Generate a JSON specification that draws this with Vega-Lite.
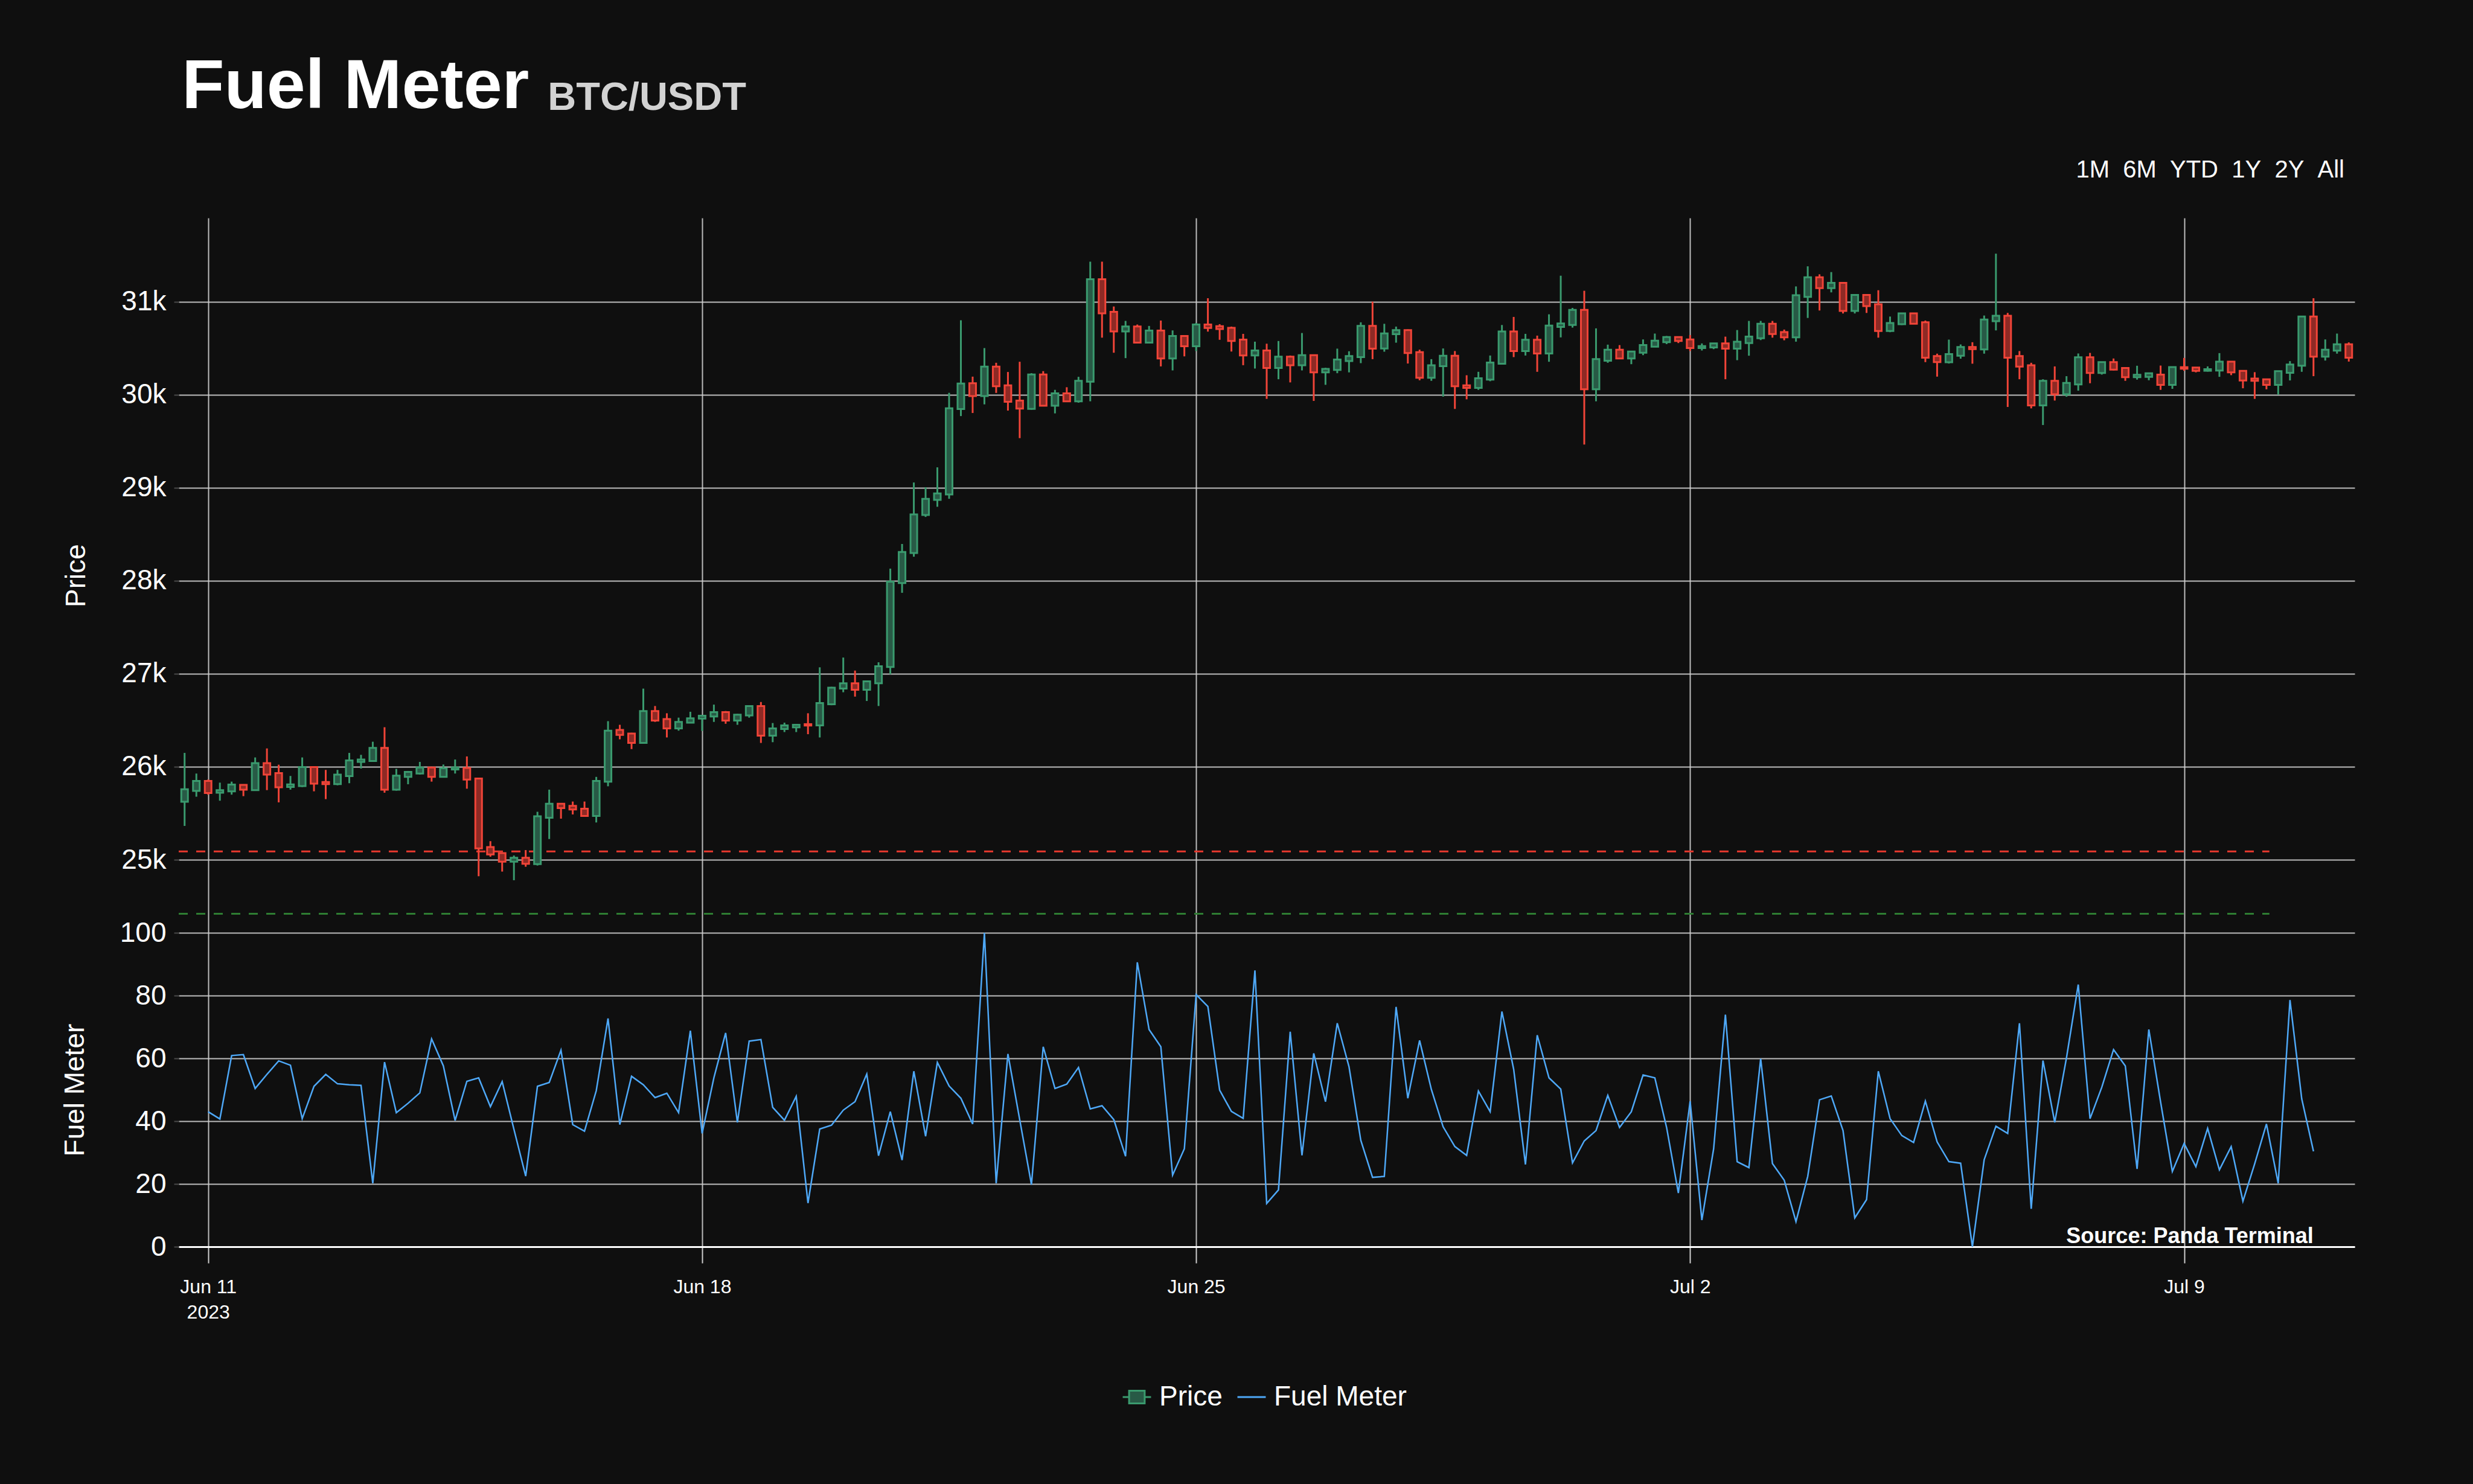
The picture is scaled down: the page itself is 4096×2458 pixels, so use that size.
{
  "$schema": "https://vega.github.io/schema/vega-lite/v6.json",
  "background": "#0f0f0f",
  "padding": {"left": 101, "top": 87, "right": 197, "bottom": 130},
  "config": {
    "font": "Liberation Sans",
    "view": {"stroke": null},
    "concat": {"spacing": 0},
    "axis": {
      "labelFont": "Liberation Sans",
      "titleFont": "Liberation Sans",
      "labelColor": "#ffffff",
      "titleColor": "#ffffff",
      "titleFontWeight": "normal",
      "gridColor": "#cfcfcf",
      "gridWidth": 2,
      "gridOpacity": 0.9,
      "tickColor": "#4a4a4a",
      "domain": false
    }
  },
  "title": {
    "text": "Fuel Meter",
    "anchor": "start",
    "fontSize": 115,
    "fontWeight": "bold",
    "color": "#ffffff",
    "font": "Liberation Sans",
    "offset": 0,
    "dx": 200,
    "dy": 73
  },
  "data": {
    "values": [
      {"t":"2023-06-10T16:00","o":25623,"h":26149,"l":25364,"c":25758},
      {"t":"2023-06-10T20:00","o":25741,"h":25927,"l":25678,"c":25847},
      {"t":"2023-06-11T00:00","o":25847,"h":25862,"l":25700,"c":25717,"f":43},
      {"t":"2023-06-11T04:00","o":25721,"h":25829,"l":25635,"c":25749,"f":40.7},
      {"t":"2023-06-11T08:00","o":25736,"h":25840,"l":25700,"c":25808,"f":60.9},
      {"t":"2023-06-11T12:00","o":25806,"h":25806,"l":25684,"c":25754,"f":61.2},
      {"t":"2023-06-11T16:00","o":25749,"h":26100,"l":25749,"c":26039,"f":50.4},
      {"t":"2023-06-11T20:00","o":26039,"h":26197,"l":25749,"c":25916,"f":54.9},
      {"t":"2023-06-12T00:00","o":25931,"h":26022,"l":25617,"c":25780,"f":59.2},
      {"t":"2023-06-12T04:00","o":25782,"h":25901,"l":25754,"c":25810,"f":57.8},
      {"t":"2023-06-12T08:00","o":25793,"h":26100,"l":25782,"c":25996,"f":40.8},
      {"t":"2023-06-12T12:00","o":25996,"h":25996,"l":25736,"c":25819,"f":51.1},
      {"t":"2023-06-12T16:00","o":25836,"h":25966,"l":25652,"c":25814,"f":54.9},
      {"t":"2023-06-12T20:00","o":25814,"h":25966,"l":25801,"c":25916,"f":51.9},
      {"t":"2023-06-13T00:00","o":25899,"h":26149,"l":25823,"c":26068,"f":51.6},
      {"t":"2023-06-13T04:00","o":26052,"h":26128,"l":25981,"c":26078,"f":51.4},
      {"t":"2023-06-13T08:00","o":26061,"h":26269,"l":26061,"c":26202,"f":20.2},
      {"t":"2023-06-13T12:00","o":26202,"h":26425,"l":25721,"c":25754,"f":58.8},
      {"t":"2023-06-13T16:00","o":25754,"h":25977,"l":25743,"c":25905,"f":42.7},
      {"t":"2023-06-13T20:00","o":25892,"h":25955,"l":25812,"c":25944,"f":45.7},
      {"t":"2023-06-14T00:00","o":25927,"h":26052,"l":25916,"c":25992,"f":49},
      {"t":"2023-06-14T04:00","o":25992,"h":26002,"l":25840,"c":25892,"f":66.2},
      {"t":"2023-06-14T08:00","o":25892,"h":26024,"l":25883,"c":25983,"f":57.6},
      {"t":"2023-06-14T12:00","o":25970,"h":26078,"l":25927,"c":25992,"f":40.2},
      {"t":"2023-06-14T16:00","o":25987,"h":26111,"l":25764,"c":25862,"f":52.7},
      {"t":"2023-06-14T20:00","o":25873,"h":25879,"l":24823,"c":25122,"f":53.8},
      {"t":"2023-06-15T00:00","o":25137,"h":25200,"l":25033,"c":25057,"f":44.6},
      {"t":"2023-06-15T04:00","o":25072,"h":25072,"l":24873,"c":24979,"f":52.6},
      {"t":"2023-06-15T08:00","o":24979,"h":25046,"l":24780,"c":25022,"f":37.4},
      {"t":"2023-06-15T12:00","o":25022,"h":25104,"l":24925,"c":24957,"f":22.5},
      {"t":"2023-06-15T16:00","o":24953,"h":25516,"l":24938,"c":25468,"f":51.1},
      {"t":"2023-06-15T20:00","o":25451,"h":25754,"l":25223,"c":25602,"f":52.3},
      {"t":"2023-06-16T00:00","o":25602,"h":25602,"l":25442,"c":25555,"f":62.6},
      {"t":"2023-06-16T04:00","o":25580,"h":25626,"l":25487,"c":25541,"f":38.9},
      {"t":"2023-06-16T08:00","o":25549,"h":25626,"l":25462,"c":25471,"f":36.8},
      {"t":"2023-06-16T12:00","o":25471,"h":25891,"l":25401,"c":25848,"f":49.7},
      {"t":"2023-06-16T16:00","o":25840,"h":26490,"l":25790,"c":26388,"f":72.7},
      {"t":"2023-06-16T20:00","o":26396,"h":26451,"l":26295,"c":26342,"f":38.9},
      {"t":"2023-06-17T00:00","o":26357,"h":26365,"l":26190,"c":26256,"f":54.3},
      {"t":"2023-06-17T04:00","o":26256,"h":26840,"l":26256,"c":26599,"f":51.6},
      {"t":"2023-06-17T08:00","o":26599,"h":26653,"l":26482,"c":26497,"f":47.5},
      {"t":"2023-06-17T12:00","o":26513,"h":26575,"l":26315,"c":26412,"f":48.9},
      {"t":"2023-06-17T16:00","o":26412,"h":26528,"l":26388,"c":26482,"f":42.7},
      {"t":"2023-06-17T20:00","o":26474,"h":26591,"l":26474,"c":26521,"f":68.8},
      {"t":"2023-06-18T00:00","o":26517,"h":26548,"l":26385,"c":26548,"f":36.1},
      {"t":"2023-06-18T04:00","o":26540,"h":26668,"l":26482,"c":26587,"f":53.8},
      {"t":"2023-06-18T08:00","o":26587,"h":26599,"l":26462,"c":26497,"f":68.1},
      {"t":"2023-06-18T12:00","o":26497,"h":26568,"l":26451,"c":26560,"f":39.6},
      {"t":"2023-06-18T16:00","o":26552,"h":26657,"l":26528,"c":26653,"f":65.5},
      {"t":"2023-06-18T20:00","o":26653,"h":26696,"l":26256,"c":26334,"f":66},
      {"t":"2023-06-19T00:00","o":26334,"h":26470,"l":26264,"c":26412,"f":44.4},
      {"t":"2023-06-19T04:00","o":26405,"h":26474,"l":26373,"c":26444,"f":40.3},
      {"t":"2023-06-19T08:00","o":26423,"h":26451,"l":26373,"c":26451,"f":47.9},
      {"t":"2023-06-19T12:00","o":26458,"h":26575,"l":26350,"c":26443,"f":13.9},
      {"t":"2023-06-19T16:00","o":26444,"h":27069,"l":26315,"c":26684,"f":37.5},
      {"t":"2023-06-19T20:00","o":26672,"h":26859,"l":26661,"c":26851,"f":38.7},
      {"t":"2023-06-20T00:00","o":26840,"h":27174,"l":26801,"c":26898,"f":43.5},
      {"t":"2023-06-20T04:00","o":26898,"h":27034,"l":26754,"c":26828,"f":46.2},
      {"t":"2023-06-20T08:00","o":26828,"h":26918,"l":26707,"c":26918,"f":55},
      {"t":"2023-06-20T12:00","o":26898,"h":27123,"l":26653,"c":27080,"f":29},
      {"t":"2023-06-20T16:00","o":27073,"h":28130,"l":26995,"c":27990,"f":43},
      {"t":"2023-06-20T20:00","o":27975,"h":28395,"l":27870,"c":28309,"f":27.6},
      {"t":"2023-06-21T00:00","o":28297,"h":29056,"l":28258,"c":28713,"f":55.9},
      {"t":"2023-06-21T04:00","o":28706,"h":29005,"l":28686,"c":28881,"f":35.2},
      {"t":"2023-06-21T08:00","o":28869,"h":29219,"l":28795,"c":28939,"f":58.7},
      {"t":"2023-06-21T12:00","o":28927,"h":30020,"l":28881,"c":29853,"f":51.2},
      {"t":"2023-06-21T16:00","o":29845,"h":30800,"l":29770,"c":30120,"f":47.3},
      {"t":"2023-06-21T20:00","o":30123,"h":30194,"l":29803,"c":29985,"f":39.1},
      {"t":"2023-06-22T00:00","o":29985,"h":30501,"l":29896,"c":30302,"f":100},
      {"t":"2023-06-22T04:00","o":30302,"h":30343,"l":30019,"c":30091,"f":20.2},
      {"t":"2023-06-22T08:00","o":30101,"h":30244,"l":29829,"c":29924,"f":61.4},
      {"t":"2023-06-22T12:00","o":29937,"h":30354,"l":29533,"c":29851,"f":40.5},
      {"t":"2023-06-22T16:00","o":29847,"h":30231,"l":29838,"c":30218,"f":19.8},
      {"t":"2023-06-22T20:00","o":30218,"h":30253,"l":29881,"c":29881,"f":63.7},
      {"t":"2023-06-23T00:00","o":29881,"h":30052,"l":29799,"c":30015,"f":50.4},
      {"t":"2023-06-23T04:00","o":30015,"h":30080,"l":29929,"c":29929,"f":51.8},
      {"t":"2023-06-23T08:00","o":29929,"h":30192,"l":29914,"c":30149,"f":57.1},
      {"t":"2023-06-23T12:00","o":30140,"h":31430,"l":29929,"c":31242,"f":43.9},
      {"t":"2023-06-23T16:00","o":31242,"h":31430,"l":30613,"c":30875,"f":44.9},
      {"t":"2023-06-23T20:00","o":30890,"h":30948,"l":30451,"c":30680,"f":40.5},
      {"t":"2023-06-24T00:00","o":30680,"h":30793,"l":30393,"c":30734,"f":28.8},
      {"t":"2023-06-24T04:00","o":30734,"h":30754,"l":30559,"c":30559,"f":90.6},
      {"t":"2023-06-24T08:00","o":30559,"h":30739,"l":30555,"c":30689,"f":69.2},
      {"t":"2023-06-24T12:00","o":30689,"h":30797,"l":30304,"c":30389,"f":63.7},
      {"t":"2023-06-24T16:00","o":30389,"h":30691,"l":30261,"c":30631,"f":22.8},
      {"t":"2023-06-24T20:00","o":30631,"h":30631,"l":30412,"c":30520,"f":31.2},
      {"t":"2023-06-25T00:00","o":30520,"h":30771,"l":30469,"c":30754,"f":80.3},
      {"t":"2023-06-25T04:00","o":30754,"h":31037,"l":30678,"c":30717,"f":76.5},
      {"t":"2023-06-25T08:00","o":30736,"h":30758,"l":30590,"c":30706,"f":49.9},
      {"t":"2023-06-25T12:00","o":30719,"h":30732,"l":30464,"c":30577,"f":43.1},
      {"t":"2023-06-25T16:00","o":30592,"h":30654,"l":30317,"c":30421,"f":40.9},
      {"t":"2023-06-25T20:00","o":30421,"h":30570,"l":30281,"c":30475,"f":88},
      {"t":"2023-06-26T00:00","o":30475,"h":30548,"l":29955,"c":30287,"f":13.8},
      {"t":"2023-06-26T04:00","o":30287,"h":30577,"l":30166,"c":30408,"f":18.1},
      {"t":"2023-06-26T08:00","o":30408,"h":30421,"l":30132,"c":30317,"f":68.5},
      {"t":"2023-06-26T12:00","o":30317,"h":30663,"l":30261,"c":30425,"f":29.1},
      {"t":"2023-06-26T16:00","o":30425,"h":30425,"l":29933,"c":30240,"f":61.6},
      {"t":"2023-06-26T20:00","o":30240,"h":30289,"l":30106,"c":30278,"f":46.2},
      {"t":"2023-06-27T00:00","o":30266,"h":30495,"l":30231,"c":30378,"f":71.2},
      {"t":"2023-06-27T04:00","o":30361,"h":30467,"l":30240,"c":30415,"f":57.3},
      {"t":"2023-06-27T08:00","o":30404,"h":30778,"l":30339,"c":30739,"f":33.9},
      {"t":"2023-06-27T12:00","o":30739,"h":31000,"l":30382,"c":30495,"f":22.1},
      {"t":"2023-06-27T16:00","o":30497,"h":30762,"l":30462,"c":30659,"f":22.4},
      {"t":"2023-06-27T20:00","o":30650,"h":30732,"l":30559,"c":30695,"f":76.4},
      {"t":"2023-06-28T00:00","o":30695,"h":30702,"l":30335,"c":30447,"f":47.3},
      {"t":"2023-06-28T04:00","o":30458,"h":30484,"l":30155,"c":30181,"f":65.7},
      {"t":"2023-06-28T08:00","o":30181,"h":30382,"l":30149,"c":30317,"f":50.1},
      {"t":"2023-06-28T12:00","o":30307,"h":30497,"l":29979,"c":30419,"f":38.2},
      {"t":"2023-06-28T16:00","o":30419,"h":30469,"l":29847,"c":30091,"f":31.9},
      {"t":"2023-06-28T20:00","o":30101,"h":30209,"l":29950,"c":30073,"f":29.1},
      {"t":"2023-06-29T00:00","o":30073,"h":30246,"l":30052,"c":30177,"f":49.6},
      {"t":"2023-06-29T04:00","o":30162,"h":30421,"l":30145,"c":30345,"f":43},
      {"t":"2023-06-29T08:00","o":30333,"h":30749,"l":30333,"c":30680,"f":74.9},
      {"t":"2023-06-29T12:00","o":30680,"h":30836,"l":30404,"c":30469,"f":56.5},
      {"t":"2023-06-29T16:00","o":30469,"h":30654,"l":30421,"c":30590,"f":26.2},
      {"t":"2023-06-29T20:00","o":30590,"h":30635,"l":30246,"c":30443,"f":67.4},
      {"t":"2023-06-30T00:00","o":30443,"h":30864,"l":30354,"c":30743,"f":53.8},
      {"t":"2023-06-30T04:00","o":30728,"h":31279,"l":30616,"c":30765,"f":50.2},
      {"t":"2023-06-30T08:00","o":30749,"h":30933,"l":30721,"c":30911,"f":26.7},
      {"t":"2023-06-30T12:00","o":30911,"h":31117,"l":29464,"c":30058,"f":33.7},
      {"t":"2023-06-30T16:00","o":30058,"h":30713,"l":29929,"c":30382,"f":37},
      {"t":"2023-06-30T20:00","o":30365,"h":30538,"l":30343,"c":30484,"f":48.2},
      {"t":"2023-07-01T00:00","o":30484,"h":30533,"l":30382,"c":30389,"f":38},
      {"t":"2023-07-01T04:00","o":30389,"h":30464,"l":30328,"c":30464,"f":43},
      {"t":"2023-07-01T08:00","o":30451,"h":30594,"l":30425,"c":30533,"f":54.7},
      {"t":"2023-07-01T12:00","o":30516,"h":30657,"l":30512,"c":30581,"f":53.8},
      {"t":"2023-07-01T16:00","o":30564,"h":30631,"l":30544,"c":30620,"f":38},
      {"t":"2023-07-01T20:00","o":30620,"h":30620,"l":30555,"c":30577,"f":17.1},
      {"t":"2023-07-02T00:00","o":30594,"h":30641,"l":30469,"c":30501,"f":46.3},
      {"t":"2023-07-02T04:00","o":30501,"h":30551,"l":30475,"c":30523,"f":8.5},
      {"t":"2023-07-02T08:00","o":30508,"h":30551,"l":30490,"c":30551,"f":31.2},
      {"t":"2023-07-02T12:00","o":30551,"h":30624,"l":30166,"c":30495,"f":73.9},
      {"t":"2023-07-02T16:00","o":30495,"h":30695,"l":30371,"c":30570,"f":27.1},
      {"t":"2023-07-02T20:00","o":30555,"h":30793,"l":30419,"c":30624,"f":25.2},
      {"t":"2023-07-03T00:00","o":30607,"h":30793,"l":30587,"c":30762,"f":59.9},
      {"t":"2023-07-03T04:00","o":30762,"h":30793,"l":30613,"c":30652,"f":26.5},
      {"t":"2023-07-03T08:00","o":30674,"h":30700,"l":30585,"c":30616,"f":21.2},
      {"t":"2023-07-03T12:00","o":30616,"h":31164,"l":30570,"c":31069,"f":8},
      {"t":"2023-07-03T16:00","o":31052,"h":31380,"l":30825,"c":31263,"f":22.4},
      {"t":"2023-07-03T20:00","o":31263,"h":31294,"l":30905,"c":31145,"f":46.8},
      {"t":"2023-07-04T00:00","o":31145,"h":31318,"l":31100,"c":31203,"f":48},
      {"t":"2023-07-04T04:00","o":31203,"h":31210,"l":30873,"c":30901,"f":37},
      {"t":"2023-07-04T08:00","o":30901,"h":31078,"l":30873,"c":31073,"f":9.2},
      {"t":"2023-07-04T12:00","o":31073,"h":31078,"l":30879,"c":30952,"f":15},
      {"t":"2023-07-04T16:00","o":30972,"h":31123,"l":30613,"c":30685,"f":55.9},
      {"t":"2023-07-04T20:00","o":30685,"h":30840,"l":30672,"c":30771,"f":40.8},
      {"t":"2023-07-05T00:00","o":30758,"h":30879,"l":30749,"c":30875,"f":35.4},
      {"t":"2023-07-05T04:00","o":30875,"h":30879,"l":30760,"c":30762,"f":33.2},
      {"t":"2023-07-05T08:00","o":30778,"h":30797,"l":30350,"c":30397,"f":46.4},
      {"t":"2023-07-05T12:00","o":30415,"h":30441,"l":30194,"c":30350,"f":33.4},
      {"t":"2023-07-05T16:00","o":30348,"h":30592,"l":30335,"c":30436,"f":27.1},
      {"t":"2023-07-05T20:00","o":30419,"h":30540,"l":30387,"c":30512,"f":26.6},
      {"t":"2023-07-06T00:00","o":30512,"h":30564,"l":30333,"c":30490,"f":0},
      {"t":"2023-07-06T04:00","o":30486,"h":30851,"l":30441,"c":30808,"f":27.7},
      {"t":"2023-07-06T08:00","o":30790,"h":31516,"l":30691,"c":30849,"f":38.4},
      {"t":"2023-07-06T12:00","o":30849,"h":30879,"l":29868,"c":30397,"f":36.1},
      {"t":"2023-07-06T16:00","o":30415,"h":30469,"l":30166,"c":30302,"f":71.2},
      {"t":"2023-07-06T20:00","o":30317,"h":30343,"l":29853,"c":29885,"f":12.1},
      {"t":"2023-07-07T00:00","o":29885,"h":30166,"l":29674,"c":30149,"f":59.3},
      {"t":"2023-07-07T04:00","o":30149,"h":30304,"l":29937,"c":30004,"f":39.6},
      {"t":"2023-07-07T08:00","o":30004,"h":30199,"l":29978,"c":30127,"f":60.2},
      {"t":"2023-07-07T12:00","o":30110,"h":30443,"l":30043,"c":30402,"f":83.5},
      {"t":"2023-07-07T16:00","o":30402,"h":30449,"l":30123,"c":30233,"f":40.8},
      {"t":"2023-07-07T20:00","o":30233,"h":30350,"l":30216,"c":30350,"f":50.8},
      {"t":"2023-07-08T00:00","o":30350,"h":30389,"l":30261,"c":30270,"f":62.8},
      {"t":"2023-07-08T04:00","o":30287,"h":30287,"l":30149,"c":30188,"f":57.6},
      {"t":"2023-07-08T08:00","o":30188,"h":30311,"l":30162,"c":30214,"f":24.8},
      {"t":"2023-07-08T12:00","o":30192,"h":30235,"l":30155,"c":30231,"f":69.2},
      {"t":"2023-07-08T16:00","o":30216,"h":30313,"l":30052,"c":30106,"f":46.1},
      {"t":"2023-07-08T20:00","o":30106,"h":30296,"l":30063,"c":30296,"f":24},
      {"t":"2023-07-09T00:00","o":30296,"h":30395,"l":30257,"c":30279,"f":32.9},
      {"t":"2023-07-09T04:00","o":30292,"h":30296,"l":30240,"c":30257,"f":25.5},
      {"t":"2023-07-09T08:00","o":30257,"h":30304,"l":30248,"c":30274,"f":37.7},
      {"t":"2023-07-09T12:00","o":30259,"h":30447,"l":30192,"c":30356,"f":24.5},
      {"t":"2023-07-09T16:00","o":30356,"h":30356,"l":30210,"c":30240,"f":31.9},
      {"t":"2023-07-09T20:00","o":30257,"h":30257,"l":30069,"c":30153,"f":14.5},
      {"t":"2023-07-10T00:00","o":30173,"h":30242,"l":29955,"c":30149,"f":26.4},
      {"t":"2023-07-10T04:00","o":30166,"h":30166,"l":30058,"c":30106,"f":39.1},
      {"t":"2023-07-10T08:00","o":30106,"h":30253,"l":30000,"c":30253,"f":20.2},
      {"t":"2023-07-10T12:00","o":30235,"h":30361,"l":30153,"c":30324,"f":78.6},
      {"t":"2023-07-10T16:00","o":30311,"h":30840,"l":30246,"c":30840,"f":47.1},
      {"t":"2023-07-10T20:00","o":30840,"h":31037,"l":30199,"c":30408,"f":30.4},
      {"t":"2023-07-11T00:00","o":30408,"h":30594,"l":30367,"c":30484},
      {"t":"2023-07-11T04:00","o":30473,"h":30657,"l":30441,"c":30542},
      {"t":"2023-07-11T08:00","o":30542,"h":30562,"l":30356,"c":30397}
    ]
  },
  "vconcat": [
    {
      "title": {
        "text": "BTC/USDT",
        "anchor": "start",
        "fontSize": 65,
        "fontWeight": "bold",
        "color": "#d2d2d2",
        "font": "Liberation Sans",
        "offset": 66,
        "dx": 806
      },
      "spacing": 0,
      "bounds": "flush",
      "resolve": {"scale": {"stroke": "shared"}, "legend": {"stroke": "shared"}},
      "vconcat": [
        {
          "width": 3604,
          "height": 1184,
          "title": {
            "text": "1M\u00a0\u00a06M\u00a0\u00a0YTD\u00a0\u00a01Y\u00a0\u00a02Y\u00a0\u00a0All",
            "anchor": "end",
            "fontSize": 40,
            "fontWeight": "normal",
            "color": "#ffffff",
            "font": "Liberation Sans",
            "offset": 59,
            "dx": -17
          },
          "encoding": {
            "x": {
              "field": "t",
              "type": "temporal",
              "scale": {
                "domain": [
                  {"year": 2023, "month": "jun", "date": 10, "hours": 14},
                  {"year": 2023, "month": "jul", "date": 11, "hours": 10}
                ],
                "padding": 0
              },
              "axis": {
                "title": null,
                "labels": false,
                "ticks": false,
                "domain": false,
                "grid": true,
                "minExtent": 0,
                "maxExtent": 0,
                "offset": 0,
                "tickCount": {"interval": "week", "step": 1}
              }
            }
          },
          "layer": [
            {
              "data": {
                "values": [
                  {"level": "upper", "start": "2023-06-10T14:00", "end": "2023-07-10T05:00", "price": 25090},
                  {"level": "lower", "start": "2023-06-10T14:00", "end": "2023-07-10T05:00", "price": 24420}
                ]
              },
              "mark": {"type": "rule", "strokeWidth": 3, "strokeDash": [15, 14]},
              "encoding": {
                "x": {"field": "start", "type": "temporal"},
                "x2": {"field": "end"},
                "y": {"field": "price", "type": "quantitative"},
                "color": {
                  "condition": {"test": "datum.level === 'upper'", "value": "#e8392e"},
                  "value": "#2e7d32"
                }
              }
            },
            {
              "mark": {"type": "rule", "strokeWidth": 3},
              "encoding": {
                "y": {
                  "field": "l",
                  "type": "quantitative",
                  "scale": {"domain": [24215, 31900], "nice": false, "zero": false},
                  "axis": {
                    "title": "Price",
                    "values": [25000, 26000, 27000, 28000, 29000, 30000, 31000],
                    "format": "~s",
                    "labelFontSize": 46,
                    "titleFontSize": 46,
                    "tickSize": 8,
                    "tickWidth": 2,
                    "labelPadding": 13,
                    "titlePadding": 50
                  }
                },
                "y2": {"field": "h"},
                "stroke": {
                  "datum": "Price",
                  "condition": {"test": "datum.c < datum.o", "value": "#f04438"},
                  "scale": {"domain": ["Price", "Fuel Meter"], "range": ["#3a9a6e", "#4ea8f7"]},
                  "legend": {
                    "orient": "none",
                    "legendX": 1562,
                    "legendY": 1928,
                    "direction": "horizontal",
                    "title": null,
                    "labelFontSize": 46,
                    "labelColor": "#ffffff",
                    "labelFont": "Liberation Sans",
                    "labelLimit": 600,
                    "symbolSize": 2200,
                    "symbolStrokeWidth": 3,
                    "labelOffset": 12,
                    "columnPadding": 18,
                    "symbolType": "stroke",
                    "encode": {
                      "symbols": {
                        "update": {
                          "shape": {"signal": "datum.value === 'Price' ? 'M-1,0H-0.55M0.55,0H1M-0.55,-0.45H0.55V0.45H-0.55Z' : 'stroke'"},
                          "fill": {"signal": "datum.value === 'Price' ? '#285a46' : 'transparent'"}
                        }
                      }
                    }
                  }
                }
              }
            },
            {
              "mark": {"type": "bar", "size": 11, "strokeWidth": 3},
              "encoding": {
                "y": {"field": "o", "type": "quantitative"},
                "y2": {"field": "c"},
                "fill": {
                  "condition": {"test": "datum.c < datum.o", "value": "#8e2a25"},
                  "value": "#285a46"
                },
                "stroke": {
                  "condition": {"test": "datum.c < datum.o", "value": "#f04438"},
                  "value": "#3a9a6e"
                }
              }
            }
          ]
        },
        {
          "width": 3604,
          "height": 520,
          "encoding": {
            "x": {
              "field": "t",
              "type": "temporal",
              "scale": {
                "domain": [
                  {"year": 2023, "month": "jun", "date": 10, "hours": 14},
                  {"year": 2023, "month": "jul", "date": 11, "hours": 10}
                ],
                "padding": 0
              },
              "axis": {
                "title": null,
                "grid": true,
                "tickCount": {"interval": "week", "step": 1},
                "labelExpr": "timeFormat(datum.value, '%b %-d') === 'Jun 11' ? ['Jun 11', '2023'] : timeFormat(datum.value, '%b %-d')",
                "labelFontSize": 32,
                "labelLineHeight": 42,
                "labelPadding": 24,
                "domain": true,
                "domainColor": "#ffffff",
                "domainWidth": 3,
                "ticks": true,
                "tickColor": "#cfcfcf",
                "tickSize": 27,
                "tickWidth": 2
              }
            }
          },
          "layer": [
            {
              "mark": {"type": "line", "strokeWidth": 2.5},
              "encoding": {
                "y": {
                  "field": "f",
                  "type": "quantitative",
                  "scale": {"domain": [0, 100], "nice": false},
                  "axis": {
                    "title": "Fuel Meter",
                    "values": [0, 20, 40, 60, 80, 100],
                    "labelFontSize": 46,
                    "titleFontSize": 46,
                    "tickSize": 8,
                    "tickWidth": 2,
                    "labelPadding": 13,
                    "titlePadding": 50
                  }
                },
                "stroke": {
                  "datum": "Fuel Meter",
                  "scale": {"domain": ["Price", "Fuel Meter"], "range": ["#3a9a6e", "#4ea8f7"]}
                }
              }
            },
            {
              "data": {"values": [{"t": "2023-07-10T20:00", "v": 0, "label": "Source: Panda Terminal"}]},
              "mark": {"type": "text", "align": "right", "baseline": "bottom", "dy": 2, "fontSize": 36, "fontWeight": "bold", "color": "#ffffff"},
              "encoding": {
                "y": {"field": "v", "type": "quantitative"},
                "text": {"field": "label"}
              }
            }
          ]
        }
      ]
    }
  ]
}
